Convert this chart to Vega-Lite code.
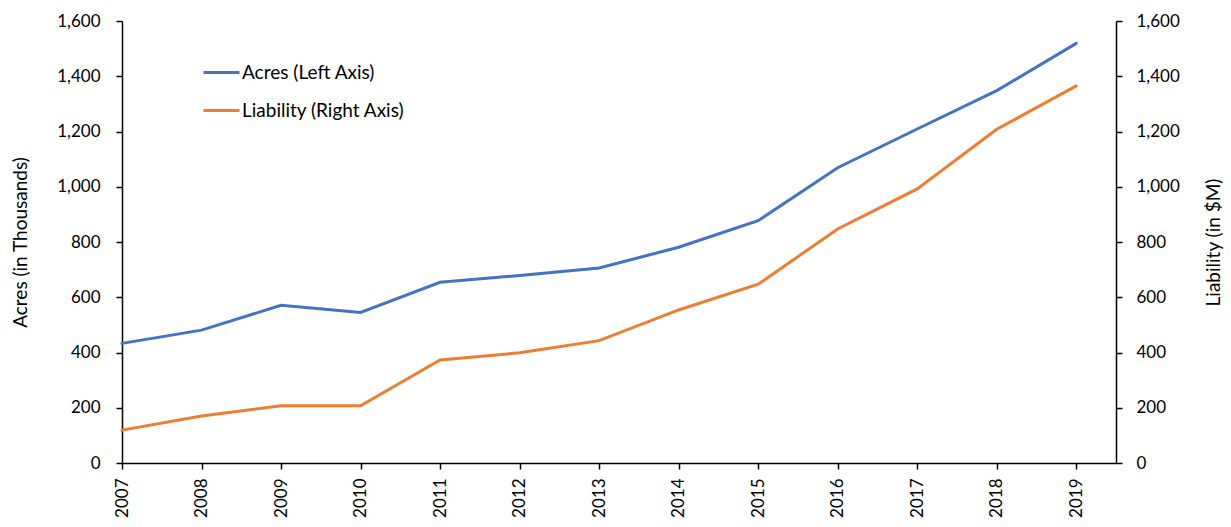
{
  "$schema": "https://vega.github.io/schema/vega-lite/v6.json",
  "width": 994,
  "height": 442,
  "autosize": {"type": "none"},
  "padding": {"left": 122, "top": 21, "right": 115, "bottom": 64},
  "config": {
    "view": {"stroke": null},
    "font": "Lato",
    "axis": {
      "domainColor": "#000000",
      "domainWidth": 1.5,
      "tickColor": "#000000",
      "tickWidth": 1.5,
      "tickSize": 6,
      "labelColor": "#000000",
      "labelFontSize": 17,
      "labelFont": "Lato",
      "titleFont": "Lato",
      "titleFontSize": 19,
      "titleFontWeight": "normal",
      "titleColor": "#000000",
      "grid": false
    }
  },
  "data": {
    "values": [
      {"year": 2007, "acres": 433, "liability": 119},
      {"year": 2008, "acres": 481, "liability": 170},
      {"year": 2009, "acres": 571, "liability": 207},
      {"year": 2010, "acres": 545, "liability": 207},
      {"year": 2011, "acres": 654, "liability": 373},
      {"year": 2012, "acres": 679, "liability": 399},
      {"year": 2013, "acres": 706, "liability": 443},
      {"year": 2014, "acres": 781, "liability": 554},
      {"year": 2015, "acres": 877, "liability": 647},
      {"year": 2016, "acres": 1069, "liability": 847},
      {"year": 2017, "acres": 1209, "liability": 992},
      {"year": 2018, "acres": 1348, "liability": 1208},
      {"year": 2019, "acres": 1519, "liability": 1365}
    ]
  },
  "encoding": {
    "x": {
      "field": "year",
      "type": "quantitative",
      "scale": {"domain": [2007, 2019.5], "nice": false, "zero": false},
      "axis": {
        "title": null,
        "values": [2007, 2008, 2009, 2010, 2011, 2012, 2013, 2014, 2015, 2016, 2017, 2018, 2019],
        "format": "d",
        "labelAngle": -90,
        "labelAlign": "right",
        "labelBaseline": "middle",
        "labelPadding": 9
      }
    }
  },
  "layer": [
    {
      "mark": {"type": "line", "strokeWidth": 3, "strokeCap": "round"},
      "encoding": {
        "y": {
          "field": "acres",
          "type": "quantitative",
          "scale": {"domain": [0, 1600], "nice": false},
          "axis": {
            "title": "Acres (in Thousands)",
            "values": [0, 200, 400, 600, 800, 1000, 1200, 1400, 1600],
            "format": ",d",
            "labelPadding": 16,
            "titlePadding": 26
          }
        },
        "color": {
          "datum": "Acres (Left Axis)",
          "type": "nominal",
          "scale": {"domain": ["Acres (Left Axis)", "Liability (Right Axis)"], "range": ["#4472C4", "#ED7D31"]},
          "legend": {
            "title": null,
            "orient": "none",
            "legendX": 80,
            "legendY": 32,
            "symbolType": "stroke",
            "symbolSize": 1296,
            "symbolStrokeWidth": 3,
            "labelFontSize": 19,
            "labelFont": "Lato",
            "labelColor": "#000000",
            "labelLimit": 400,
            "rowPadding": 8,
            "labelOffset": 1
          }
        }
      }
    },
    {
      "mark": {"type": "line", "strokeWidth": 3, "strokeCap": "round"},
      "encoding": {
        "y": {
          "field": "liability",
          "type": "quantitative",
          "scale": {"domain": [0, 1600], "nice": false},
          "axis": {
            "orient": "right",
            "title": "Liability (in $M)",
            "titleAngle": -90,
            "values": [0, 200, 400, 600, 800, 1000, 1200, 1400, 1600],
            "format": ",d",
            "labelPadding": 14,
            "titlePadding": 44
          }
        },
        "color": {"datum": "Liability (Right Axis)", "type": "nominal"}
      }
    }
  ],
  "resolve": {"scale": {"y": "independent"}}
}
